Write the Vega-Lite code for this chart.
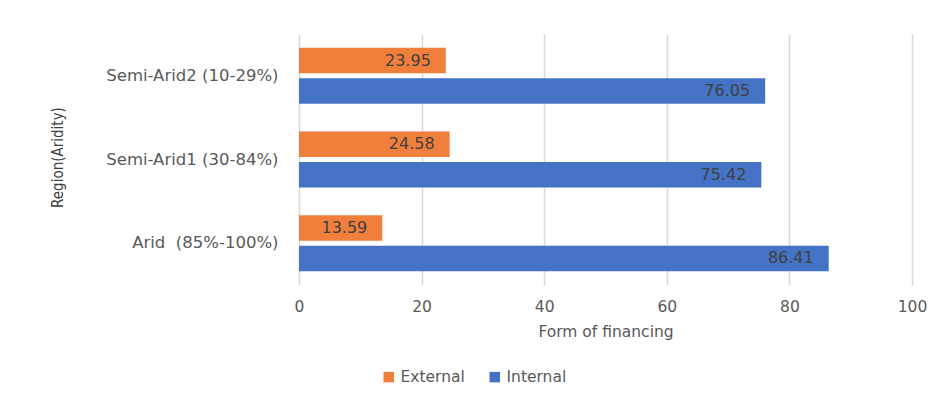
{
  "$schema": "https://vega.github.io/schema/vega-lite/v6.json",
  "width": 613,
  "height": 251,
  "autosize": {"type": "none"},
  "padding": {"left": 299, "top": 34, "right": 36, "bottom": 112},
  "background": "white",
  "config": {
    "view": {"stroke": null},
    "font": "DejaVu Sans"
  },
  "data": {
    "values": [
      {"region": "Semi-Arid2 (10-29%)", "form": "External", "value": 23.95},
      {"region": "Semi-Arid2 (10-29%)", "form": "Internal", "value": 76.05},
      {"region": "Semi-Arid1 (30-84%)", "form": "External", "value": 24.58},
      {"region": "Semi-Arid1 (30-84%)", "form": "Internal", "value": 75.42},
      {"region": "Arid\u00a0\u00a0(85%-100%)", "form": "External", "value": 13.59},
      {"region": "Arid\u00a0\u00a0(85%-100%)", "form": "Internal", "value": 86.41}
    ]
  },
  "encoding": {
    "y": {
      "field": "region",
      "type": "nominal",
      "sort": ["Semi-Arid2 (10-29%)", "Semi-Arid1 (30-84%)", "Arid\u00a0\u00a0(85%-100%)"],
      "scale": {"paddingInner": 0.33, "paddingOuter": 0.165},
      "axis": {
        "title": "Region(Aridity)",
        "titleFont": "DejaVu Sans Condensed, Liberation Sans Narrow, Liberation Sans",
        "titleFontSize": 15,
        "titleFontWeight": "normal",
        "titleColor": "#404040",
        "titleX": -242,
        "titleY": 123,
        "titleAngle": -90,
        "titleAlign": "center",
        "titleBaseline": "middle",
        "labelFontSize": 16.5,
        "labelColor": "#595959",
        "labelPadding": 21,
        "ticks": false,
        "domain": false,
        "grid": false
      }
    },
    "yOffset": {
      "field": "form",
      "type": "nominal",
      "sort": ["External", "Internal"],
      "scale": {"paddingInner": 0.164, "paddingOuter": 0}
    },
    "x": {
      "field": "value",
      "type": "quantitative",
      "scale": {"domain": [0, 100], "nice": false},
      "axis": {
        "title": "Form of financing",
        "titleFontSize": 15.5,
        "titleFontWeight": "normal",
        "titleColor": "#595959",
        "titlePadding": 10,
        "values": [0, 20, 40, 60, 80, 100],
        "labelFontSize": 15.5,
        "labelColor": "#595959",
        "labelPadding": 14,
        "labelFlush": false,
        "ticks": false,
        "domain": false,
        "grid": true,
        "gridColor": "#D9D9D9",
        "gridWidth": 1.5
      }
    }
  },
  "layer": [
    {
      "mark": {"type": "bar"},
      "encoding": {
        "color": {
          "field": "form",
          "type": "nominal",
          "sort": ["External", "Internal"],
          "scale": {"domain": ["External", "Internal"], "range": ["#F07F3C", "#4472C4"]},
          "legend": {
            "title": null,
            "orient": "none",
            "direction": "horizontal",
            "legendX": 82,
            "legendY": 335,
            "symbolType": "square",
            "symbolSize": 110,
            "symbolStrokeWidth": 0,
            "labelFontSize": 15.5,
            "labelColor": "#595959",
            "columnPadding": 22
          }
        }
      }
    },
    {
      "mark": {"type": "text", "align": "right", "baseline": "middle", "dx": -15, "fontSize": 16, "color": "#404040"},
      "encoding": {
        "text": {"field": "value", "type": "quantitative", "format": ".2f"}
      }
    }
  ]
}
